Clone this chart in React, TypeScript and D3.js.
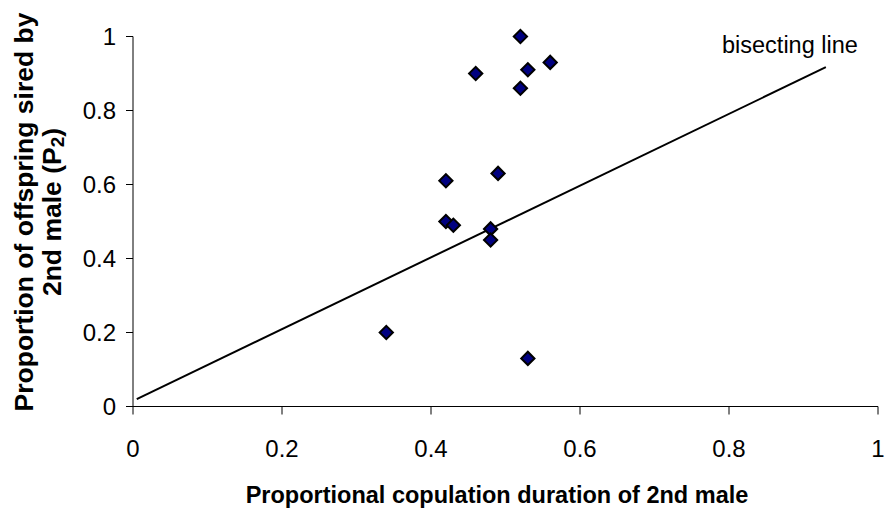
import * as d3 from "d3";
import React from "react";

// data
const copDuration = [0.52, 0.46, 0.53, 0.56, 0.52, 0.42, 0.49, 0.42, 0.43, 0.48, 0.48, 0.34, 0.53];
const p2Values = [1.0, 0.9, 0.91, 0.93, 0.86, 0.61, 0.63, 0.5, 0.49, 0.48, 0.45, 0.2, 0.13];
const lineX = [0.005, 0.93];
const lineY = [0.02, 0.917];
const xTicks = [0, 0.2, 0.4, 0.6, 0.8, 1];
const yTicks = [0, 0.2, 0.4, 0.6, 0.8, 1];

const width = 885;
const height = 512;
const font = "'Liberation Sans', Arial, sans-serif";

export default function App() {
  const x = d3.scaleLinear().domain([0, 1]).range([133, 878]);
  const y = d3.scaleLinear().domain([0, 1]).range([406.5, 36.5]);

  const points = copDuration.map((d, i) => ({ x: d, y: p2Values[i] }));
  const diamond = d3.symbol().type(d3.symbolSquare).size(88)();
  const line = d3.line<number>().x((d) => x(d)).y((d, i) => y(lineY[i]));

  return (
    <svg
      width={width}
      height={height}
      style={{ position: "absolute", left: 0, top: 0, background: "#fff" }}
      fontFamily={font}
    >
      {/* axes */}
      <line x1={x(0)} x2={x(1)} y1={y(0)} y2={y(0)} stroke="#000" strokeWidth={1} />
      <line x1={x(0)} x2={x(0)} y1={y(0)} y2={y(1)} stroke="#000" strokeWidth={1} />
      {xTicks.map((t) => (
        <g key={"x" + t}>
          <line x1={x(t)} x2={x(t)} y1={y(0)} y2={y(0) + 8} stroke="#000" />
          <text x={x(t)} y={457} textAnchor="middle" fontSize={24}>
            {String(t)}
          </text>
        </g>
      ))}
      {yTicks.map((t) => (
        <g key={"y" + t}>
          <line x1={x(0) - 7} x2={x(0)} y1={y(t)} y2={y(t)} stroke="#000" />
          <text x={116} y={y(t) + 8.5} textAnchor="end" fontSize={24}>
            {String(t)}
          </text>
        </g>
      ))}

      {/* bisecting line */}
      <path d={line(lineX) || ""} fill="none" stroke="#000" strokeWidth={2} />
      <text x={722} y={53} fontSize={23.5}>
        bisecting line
      </text>

      {/* points */}
      {points.map((p, i) => (
        <path
          key={i}
          d={diamond || ""}
          transform={`translate(${x(p.x)},${y(p.y)}) rotate(45)`}
          fill="#000080"
          stroke="#000"
          strokeWidth={2}
        />
      ))}

      {/* axis titles */}
      <text x={497} y={503} textAnchor="middle" fontSize={23.5} fontWeight="bold">
        Proportional copulation duration of 2nd male
      </text>
      <g transform="translate(33,212) rotate(-90)">
        <text x={0} y={0} textAnchor="middle" fontSize={26.5} fontWeight="bold">
          Proportion of offspring sired by
        </text>
        <text x={0} y={27.5} textAnchor="middle" fontSize={26.5} fontWeight="bold">
          2nd male (P<tspan fontSize={19} dy={3}>2</tspan>
          <tspan dy={-3}>)</tspan>
        </text>
      </g>
    </svg>
  );
}
